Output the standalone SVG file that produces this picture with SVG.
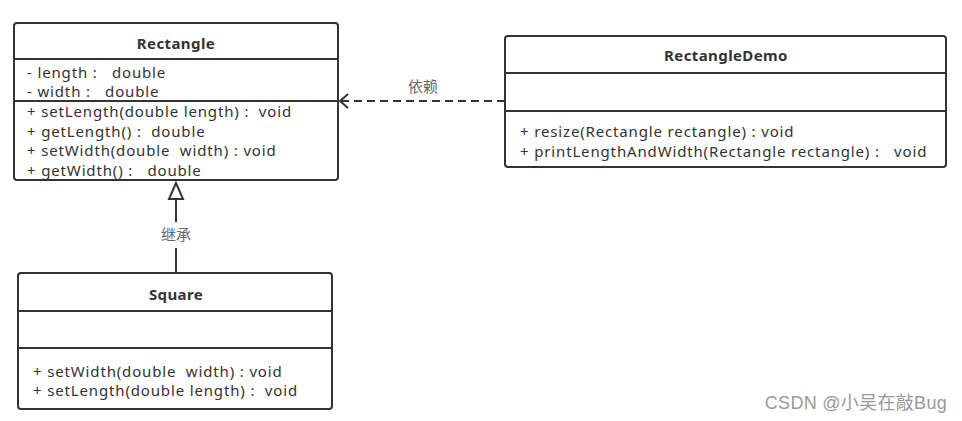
<svg xmlns="http://www.w3.org/2000/svg" width="962" height="421" viewBox="0 0 962 421">
<style>
.box{fill:#fff;stroke:#333;stroke-width:2}
.div{stroke:#333;stroke-width:2}
.title{font-family:"Noto Sans","Liberation Sans","Noto Sans CJK SC",sans-serif;font-size:15px;font-weight:bold;fill:#333;text-anchor:middle;letter-spacing:0.4px}
.t{font-family:"Noto Sans","Liberation Sans","Noto Sans CJK SC",sans-serif;font-size:15px;fill:#333;letter-spacing:0.85px}
.lbl{font-family:"Noto Sans CJK SC","Noto Sans",sans-serif;font-size:15px;fill:#666;text-anchor:middle}
.wm{font-family:"Liberation Sans","Noto Sans CJK SC",sans-serif;font-size:18px;fill:#999;text-anchor:end;letter-spacing:0.3px}
.edge{fill:none;stroke:#333;stroke-width:2}
</style>
<rect width="962" height="421" fill="#fff"/>
<g id="connectors">
  <line class="edge" x1="505" y1="101" x2="341" y2="101" stroke-dasharray="8 5"/>
  <polyline class="edge" points="348,94 340,101 348,108"/>
  <text class="lbl" x="423" y="92">依赖</text>
  <line class="edge" x1="176" y1="273" x2="176" y2="248"/>
  <line class="edge" x1="176" y1="222" x2="176" y2="199"/>
  <polygon points="176,183 169,199 183,199" fill="#fff" stroke="#333" stroke-width="2"/>
  <text class="lbl" x="176" y="240">继承</text>
</g>
<g id="Rectangle">
  <rect class="box" x="14" y="23" width="324" height="157" rx="3"/>
  <line class="div" x1="14" y1="59" x2="338" y2="59"/>
  <line class="div" x1="14" y1="101" x2="338" y2="101"/>
  <text class="title" x="176" y="49">Rectangle</text>
  <text class="t" x="27" y="78" xml:space="preserve">- length :   double</text>
  <text class="t" x="27" y="97" xml:space="preserve">- width :   double</text>
  <text class="t" x="27" y="117" xml:space="preserve">+ setLength(double length) :  void</text>
  <text class="t" x="27" y="137" xml:space="preserve">+ getLength() :  double</text>
  <text class="t" x="27" y="156" xml:space="preserve">+ setWidth(double  width) : void</text>
  <text class="t" x="27" y="176" xml:space="preserve">+ getWidth() :   double</text>
</g>
<g id="RectangleDemo">
  <rect class="box" x="505" y="36" width="441" height="131" rx="3"/>
  <line class="div" x1="505" y1="73" x2="946" y2="73"/>
  <line class="div" x1="505" y1="111" x2="946" y2="111"/>
  <text class="title" x="726" y="61">RectangleDemo</text>
  <text class="t" x="520" y="137" xml:space="preserve">+ resize(Rectangle rectangle) : void</text>
  <text class="t" x="520" y="157" xml:space="preserve">+ printLengthAndWidth(Rectangle rectangle) :   void</text>
</g>
<g id="Square">
  <rect class="box" x="18" y="273" width="314" height="136" rx="3"/>
  <line class="div" x1="18" y1="311" x2="332" y2="311"/>
  <line class="div" x1="18" y1="348" x2="332" y2="348"/>
  <text class="title" x="176" y="300">Square</text>
  <text class="t" x="33" y="377" xml:space="preserve">+ setWidth(double  width) : void</text>
  <text class="t" x="33" y="396" xml:space="preserve">+ setLength(double length) :  void</text>
</g>
<text class="wm" x="947" y="409">CSDN @小吴在敲Bug</text>
</svg>
